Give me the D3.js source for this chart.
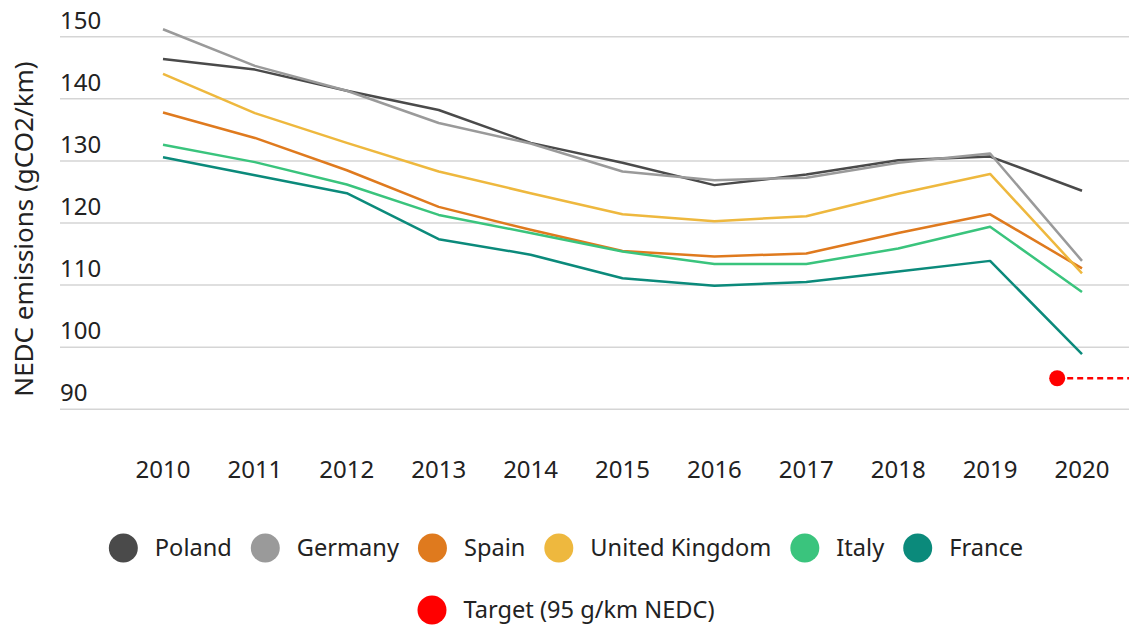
<!DOCTYPE html>
<html lang="en">
<head>
<meta charset="UTF-8">
<title>NEDC emissions by country</title>
<script src="https://d3js.org/d3.v7.min.js"></script>
<style>
  body { margin: 0; background: #fff; }
  svg { display: block; font-family: "Noto Sans", sans-serif; }
</style>
</head>
<body>
<script>
// data
const years = [2010, 2011, 2012, 2013, 2014, 2015, 2016, 2017, 2018, 2019, 2020];
const countries = ["Poland", "Germany", "Spain", "United Kingdom", "Italy", "France"];
const colors = ["#4a4a4a", "#9a9a9a", "#df7a1e", "#eeb83e", "#3ac47d", "#0b8a7b"];

const poland  = [146.4, 144.7, 141.3, 138.2, 132.9, 129.7, 126.1, 127.8, 130.1, 130.7, 125.2];
const germany = [151.2, 145.3, 141.3, 136.1, 132.8, 128.3, 126.9, 127.3, 129.7, 131.2, 113.9];
const uk      = [144.0, 137.7, 132.9, 128.3, 124.8, 121.4, 120.3, 121.1, 124.7, 127.9, 111.9];
const spain   = [137.8, 133.7, 128.5, 122.6, 118.9, 115.5, 114.6, 115.1, 118.4, 121.4, 112.7];
const italy   = [132.6, 129.8, 126.2, 121.3, 118.4, 115.4, 113.4, 113.4, 115.9, 119.4, 108.9];
const france  = [130.6, 127.7, 124.8, 117.4, 114.9, 111.1, 109.9, 110.5, 112.2, 113.9, 98.9];
const seriesValues = [poland, germany, spain, uk, italy, france];

const targetValue = 95;
const targetYear = 2019.73;
const targetLabel = "Target (95 g/km NEDC)";

const yTicks = [90, 100, 110, 120, 130, 140, 150];
const yTitle = "NEDC emissions (gCO2/km)";

const width = 1129, height = 625;

const svg = d3.select("body").append("svg")
    .attr("width", width)
    .attr("height", height);

const x = d3.scaleLinear().domain([2010, 2020]).range([163, 1082]);
const y = d3.scaleLinear().domain([90, 150]).range([409.3, 36.7]);

// gridlines + y labels
const grid = svg.append("g");
grid.selectAll("line")
    .data(yTicks)
    .enter().append("line")
    .attr("x1", 60).attr("x2", width)
    .attr("y1", d => y(d)).attr("y2", d => y(d))
    .attr("stroke", "#d5d5d5")
    .attr("stroke-width", 1.5);
grid.selectAll("text")
    .data(yTicks)
    .enter().append("text")
    .attr("x", 60)
    .attr("y", d => y(d) - 8)
    .attr("font-size", 24)
    .attr("fill", "#222")
    .text(d => d);

// y title
svg.append("text")
    .attr("transform", "translate(33,229) rotate(-90)")
    .attr("text-anchor", "middle")
    .attr("font-size", 26)
    .attr("fill", "#222")
    .text(yTitle);

// x axis labels
svg.append("g").selectAll("text")
    .data(years)
    .enter().append("text")
    .attr("x", d => x(d))
    .attr("y", 478)
    .attr("text-anchor", "middle")
    .attr("font-size", 24)
    .attr("fill", "#222")
    .text(d => d);

// lines
const line = d3.line()
    .x((d, i) => x(years[i]))
    .y(d => y(d));

svg.append("g").selectAll("path")
    .data(seriesValues)
    .enter().append("path")
    .attr("d", d => line(d))
    .attr("fill", "none")
    .attr("stroke", (d, i) => colors[i])
    .attr("stroke-width", 2.5)
    .attr("stroke-linejoin", "round");

// target
svg.append("line")
    .attr("x1", x(targetYear)).attr("x2", width)
    .attr("y1", y(targetValue)).attr("y2", y(targetValue))
    .attr("stroke", "#ff0000")
    .attr("stroke-width", 2.5)
    .attr("stroke-dasharray", "6,4");
svg.append("circle")
    .attr("cx", x(targetYear))
    .attr("cy", y(targetValue))
    .attr("r", 8)
    .attr("fill", "#ff0000");

// legend
const r = 14.5, gapIn = 17, gapOut = 19, legendCenter = 566;

function legendRow(items, cy) {
    const g = svg.append("g");
    const groups = g.selectAll("g")
        .data(items)
        .enter().append("g");
    groups.append("circle")
        .attr("r", r)
        .attr("cy", cy)
        .attr("fill", d => d.color);
    groups.append("text")
        .attr("y", cy)
        .attr("dy", "0.35em")
        .attr("font-size", 23.6)
        .attr("fill", "#222")
        .text(d => d.name);
    const widths = [];
    groups.select("text").each(function() { widths.push(this.getComputedTextLength()); });
    const total = d3.sum(widths, w => 2 * r + gapIn + w) + gapOut * (items.length - 1);
    let cx = legendCenter - total / 2;
    groups.each(function(d, i) {
        const gg = d3.select(this);
        gg.select("circle").attr("cx", cx + r);
        gg.select("text").attr("x", cx + 2 * r + gapIn);
        cx += 2 * r + gapIn + widths[i] + gapOut;
    });
}

legendRow(countries.map((c, i) => ({ name: c, color: colors[i] })), 548);
legendRow([{ name: targetLabel, color: "#ff0000" }], 610);
</script>
</body>
</html>
